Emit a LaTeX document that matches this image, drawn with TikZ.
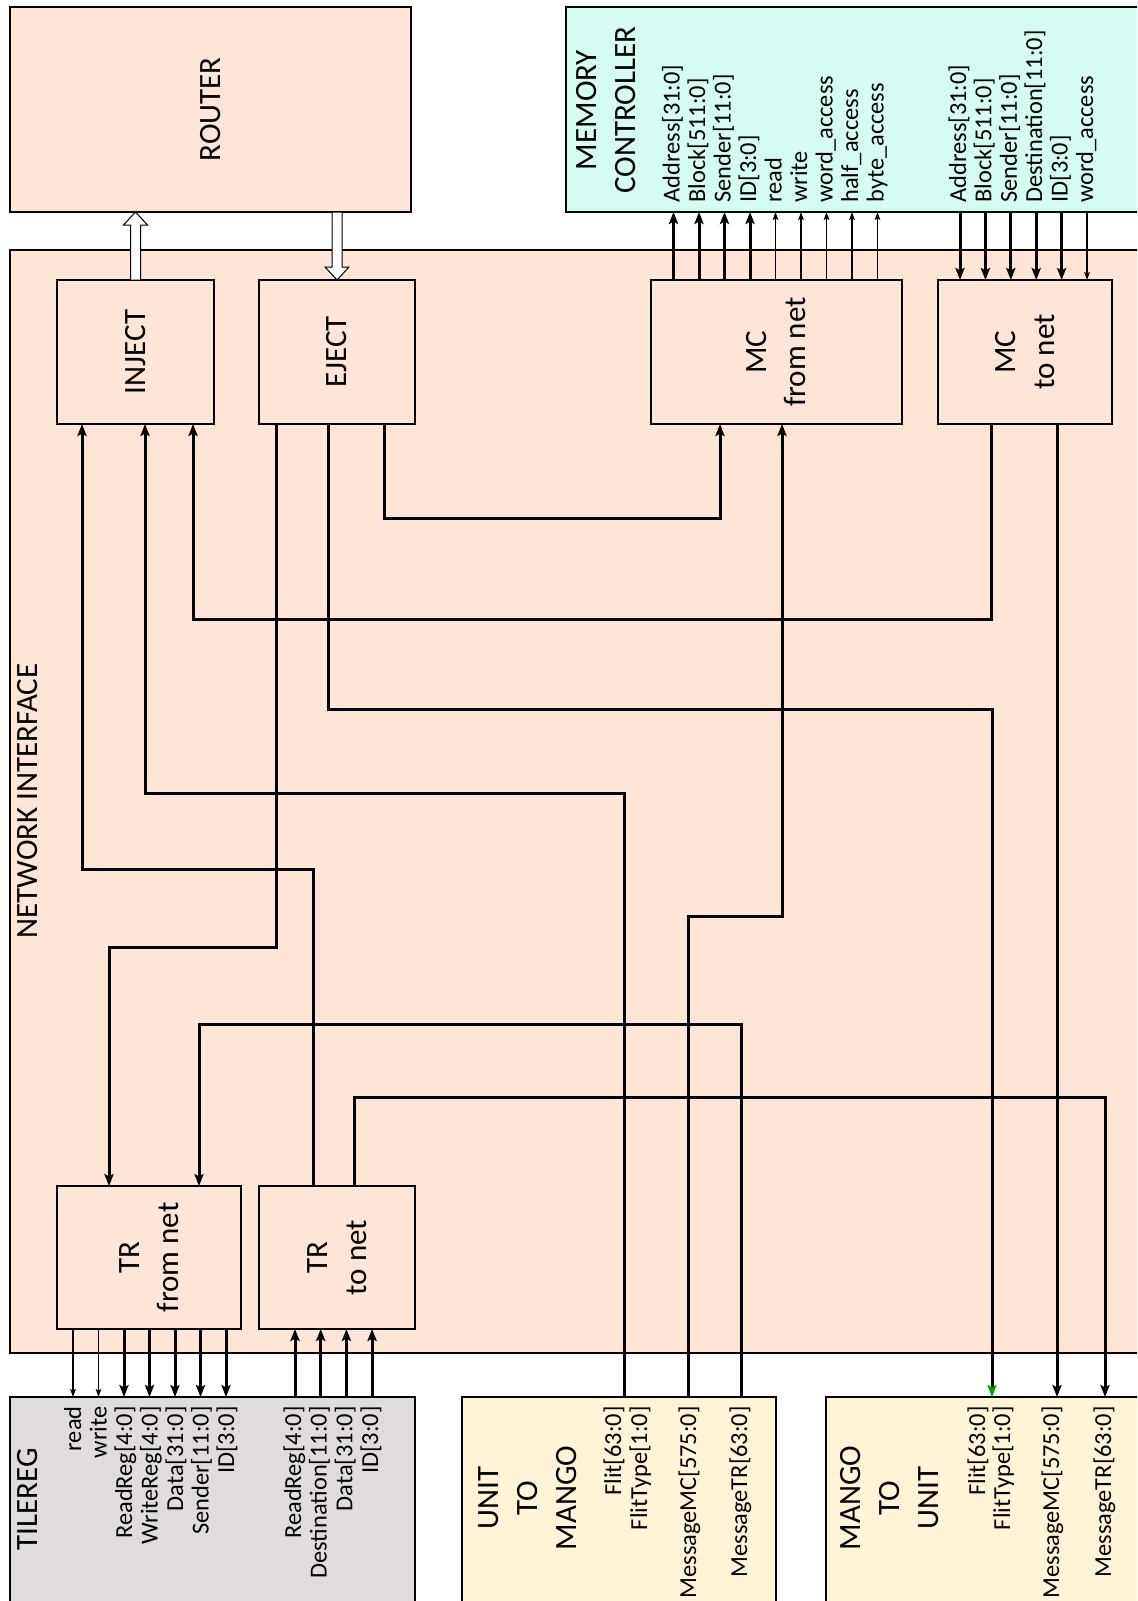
\documentclass[tikz,border=0pt]{standalone}
\usepackage{fontspec}
\setmainfont{Carlito}
\usetikzlibrary{arrows.meta,calc}
\definecolor{peach}{RGB}{255,229,213}
\definecolor{aqua}{RGB}{213,252,242}
\definecolor{greybox}{RGB}{224,220,219}
\definecolor{cream}{RGB}{255,245,214}
\definecolor{greenhead}{RGB}{0,160,0}
\begin{document}
\begin{tikzpicture}[x=0.5pt,y=-0.5pt,
  box/.style={draw, line width=1pt, inner sep=0pt, outer sep=0pt, anchor=north west},
  ttl/.style={font=\fontsize{15.5}{19.5}\selectfont, align=center, rotate=90, inner sep=0pt},
  lbl/.style={font=\fontsize{12.2}{14}\selectfont, rotate=90, inner sep=0pt, text height=9pt, text depth=3pt},
  wire/.style={line width=1.5pt},
  thinwire/.style={line width=0.6pt},
  bigtip/.style={-{Stealth[length=6pt,width=4.6pt,inset=1.2pt]}},
  smalltip/.style={-{Stealth[length=4pt,width=2.8pt,inset=0.8pt]}},
  greentip/.style={-{Stealth[length=6pt,width=4.6pt,inset=1.2pt,color=greenhead]}},
  hollow/.style={draw, fill=white, line width=0.5pt}
]
\useasboundingbox (0,0) rectangle (1137,1601);
\clip (0,0) rectangle (1137,1601);

% ---------- main boxes ----------
\node[box, fill=peach, minimum width=570pt, minimum height=551.5pt] (ni) at (10,250) {};
\node[box, fill=peach, minimum width=200.5pt, minimum height=102.5pt] (router) at (10,7) {};
\node[box, fill=aqua, minimum width=292pt, minimum height=102.5pt] (mc) at (566,7) {};

\node[box, fill=peach, minimum width=78.5pt, minimum height=72pt] (inject) at (57,280) {};
\node[box, fill=peach, minimum width=78pt, minimum height=72pt] (eject) at (259,280) {};
\node[box, fill=peach, minimum width=125.5pt, minimum height=72pt] (mcfrom) at (651,280) {};
\node[box, fill=peach, minimum width=87pt, minimum height=72pt] (mcto) at (938,280) {};
\node[box, fill=peach, minimum width=92pt, minimum height=71.5pt] (trfrom) at (57,1186) {};
\node[box, fill=peach, minimum width=78pt, minimum height=71.5pt] (trto) at (259,1186) {};

\node[box, fill=greybox, minimum width=202.5pt, minimum height=115pt] (tilereg) at (10,1397) {};
\node[box, fill=cream, minimum width=157pt, minimum height=115pt] (unit) at (462,1397) {};
\node[box, fill=cream, minimum width=162pt, minimum height=115pt] (mango) at (826,1397) {};

% ---------- titles ----------
\node[ttl] (trouter) at (router.center) {ROUTER};
\node[ttl] (tmc) at (606,110) {MEMORY\\CONTROLLER};
\node[ttl] (tni) at (28,801) {NETWORK INTERFACE};
\node[ttl] (tinject) at (inject.center) {INJECT};
\node[ttl] (teject) at (eject.center) {EJECT};
\node[ttl] (tmcfrom) at (mcfrom.center) {MC\\from net};
\node[ttl] (tmcto) at (mcto.center) {MC\\to net};
\node[ttl] (ttrfrom) at (trfrom.center) {TR\\from net};
\node[ttl] (ttrto) at (trto.center) {TR\\to net};
\node[ttl] (ttilereg) at (28,1499) {TILEREG};
\node[ttl] (tunit) at (528,1498) {UNIT\\TO\\MANGO};
\node[ttl] (tmango) at (890,1498) {MANGO\\TO\\UNIT};

% ---------- hollow arrows to / from router ----------
\coordinate (ti) at (inject.north |- router.south);
\draw[hollow] ($(inject.north)+(-5,0)$) -- ($(ti)+(-5,13)$) -- ($(ti)+(-12,13)$) -- (ti)
  -- ($(ti)+(12,13)$) -- ($(ti)+(5,13)$) -- ($(inject.north)+(5,0)$) -- cycle;
\coordinate (te) at (eject.north);
\coordinate (tr) at (eject.north |- router.south);
\draw[hollow] ($(tr)+(-5,0)$) -- ($(te)+(-5,-13)$) -- ($(te)+(-12,-13)$) -- (te)
  -- ($(te)+(12,-13)$) -- ($(te)+(5,-13)$) -- ($(tr)+(5,0)$) -- cycle;

% ---------- internal wires ----------
\draw[wire,bigtip] ($(eject.south west)+(125,0)$) -- ++(0,94) -| ($(mcfrom.south west)+(69,0)$);
\draw[wire,bigtip] ($(mcto.south west)+(53,0)$) -- ++(0,195) -| ($(inject.south west)+(136,0)$);
\draw[wire,greentip] ($(eject.south west)+(69,0)$) -- ++(0,285) -| ($(mango.north west)+(166,0)$);
\draw[wire,bigtip] ($(unit.north west)+(162,0)$) -- ++(0,-604) -| ($(inject.south west)+(88,0)$);
\draw[wire,bigtip] ($(trto.north west)+(54,0)$) -- ++(0,-317) -| ($(inject.south west)+(25,0)$);
\draw[wire,bigtip] ($(eject.south west)+(17,0)$) -- ++(0,523) -| ($(trfrom.north west)+(52,0)$);
\draw[wire,bigtip] ($(unit.north west)+(226,0)$) -- ++(0,-481) -| ($(mcfrom.south west)+(131,0)$);
\draw[wire,bigtip] ($(unit.north west)+(279,0)$) -- ++(0,-373) -| ($(trfrom.north west)+(142,0)$);
\draw[wire,bigtip] ($(trto.north west)+(95,0)$) -- ++(0,-89) -| ($(mango.north west)+(279,0)$);
\draw[wire,bigtip] ($(mcto.south west)+(119,0)$) coordinate (p10) -- (p10 |- mango.north);

% ---------- MC from net -> memory controller ----------
\foreach \i in {0,...,3}
  \draw[wire,bigtip] ($(mcfrom.north west)+(22.5+25.5*\i,0)$) coordinate (p) -- (p |- mc.south);
\foreach \i in {4,...,8}
  \draw[thinwire,smalltip] ($(mcfrom.north west)+(22.5+25.5*\i,0)$) coordinate (p) -- (p |- mc.south);
\foreach \lab [count=\i from 0] in {{Address[31:0]},{Block[511:0]},{Sender[11:0]},{ID[3:0]},{read},{write},{word\_access},{half\_access},{byte\_access}}
  \node[lbl, anchor=west] (mcl\i) at ($(mcfrom.north west)+(22.5+25.5*\i,-77)$) {\lab};

% ---------- memory controller -> MC to net ----------
\foreach \i in {0,...,4}
  \draw[wire,bigtip] ($(mcto.north west)+(22+25.4*\i,0)$) coordinate (p) -- ++(0,0) (p |- mc.south) -- (p);
\foreach \i in {5}
  \draw[thinwire,smalltip] ($(mcto.north west)+(22+25.4*\i,0)$) coordinate (p) -- ++(0,0) (p |- mc.south) -- (p);
\foreach \lab [count=\i from 0] in {{Address[31:0]},{Block[511:0]},{Sender[11:0]},{Destination[11:0]},{ID[3:0]},{word\_access}}
  \node[lbl, anchor=west] (mtl\i) at ($(mcto.north west)+(22+25.4*\i,-77)$) {\lab};

% ---------- TR from net -> TILEREG ----------
\foreach \i in {0,1}
  \draw[thinwire,smalltip] ($(trfrom.south west)+(16+25.5*\i,0)$) coordinate (p) -- (p |- tilereg.north);
\foreach \i in {2,...,6}
  \draw[wire,bigtip] ($(trfrom.south west)+(16+25.5*\i,0)$) coordinate (p) -- (p |- tilereg.north);
\foreach \lab [count=\i from 0] in {read,write,{ReadReg[4:0]},{WriteReg[4:0]},{Data[31:0]},{Sender[11:0]},{ID[3:0]}}
  \node[lbl, anchor=east] (tfl\i) at ($(trfrom.south west)+(18+25.5*\i,77)$) {\lab};

% ---------- TILEREG -> TR to net ----------
\foreach \i in {0,...,3}
  \draw[wire,bigtip] ($(trto.south west)+(36+25.7*\i,0)$) coordinate (p) -- ++(0,0) (p |- tilereg.north) -- (p);
\foreach \lab [count=\i from 0] in {{ReadReg[4:0]},{Destination[11:0]},{Data[31:0]},{ID[3:0]}}
  \node[lbl, anchor=east] (ttl\i) at ($(trto.south west)+(36+25.7*\i,77)$) {\lab};

% ---------- UNIT TO MANGO / MANGO TO UNIT labels ----------
\node[lbl, anchor=east] (u1) at ($(unit.north west)+(153,9)$) {Flit[63:0]};
\node[lbl, anchor=east] (u2) at ($(unit.north west)+(179,9)$) {FlitType[1:0]};
\node[lbl, anchor=east] (u3) at ($(unit.north west)+(228,9)$) {MessageMC[575:0]};
\node[lbl, anchor=east] (u4) at ($(unit.north west)+(279,9)$) {MessageTR[63:0]};
\node[lbl, anchor=east] (m1) at ($(mango.north west)+(153,9)$) {Flit[63:0]};
\node[lbl, anchor=east] (m2) at ($(mango.north west)+(178,9)$) {FlitType[1:0]};
\node[lbl, anchor=east] (m3) at ($(mango.north west)+(227,9)$) {MessageMC[575:0]};
\node[lbl, anchor=east] (m4) at ($(mango.north west)+(279,9)$) {MessageTR[63:0]};
\end{tikzpicture}
\end{document}
